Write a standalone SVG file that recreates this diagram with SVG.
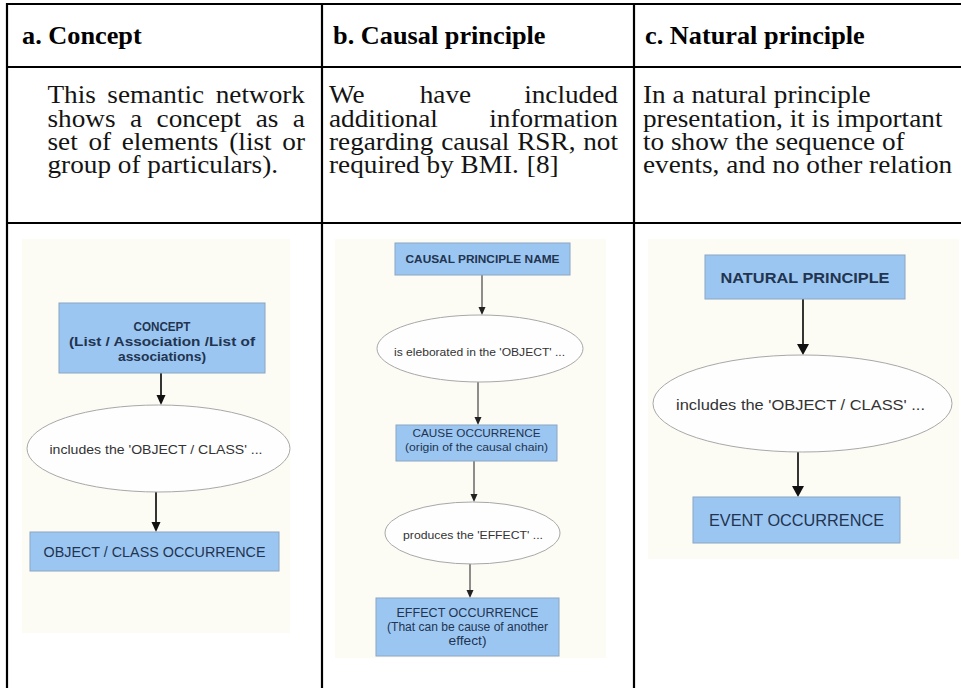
<svg xmlns="http://www.w3.org/2000/svg" width="961" height="688" viewBox="0 0 961 688">
<style>
  .grid{stroke:#000;stroke-width:2.2;fill:none}
  .hd{font-family:"Liberation Serif","Times New Roman",serif;font-weight:bold;font-size:24.8px;fill:#000}
  .bd{font-family:"Liberation Serif","Times New Roman",serif;font-size:25.7px;fill:#141414}
  .pic{fill:#fcfbf4}
  .box{fill:#9cc6f2;stroke:#8aa6c4;stroke-width:1}
  .oval{fill:#fefefe;stroke:#a8a8a8;stroke-width:1}
  .bt{font-family:"Liberation Sans",Arial,sans-serif;fill:#22344f;text-anchor:middle}
  .ot{font-family:"Liberation Sans",Arial,sans-serif;fill:#333;text-anchor:middle}
  .b{font-weight:bold}
  .edge{stroke:#111;stroke-width:1.7;fill:none}
  .edge.s{stroke:#333;stroke-width:1.1}
</style>
<defs>
  <marker id="ah" markerUnits="userSpaceOnUse" markerWidth="10" markerHeight="10" refX="7" refY="5" orient="auto">
    <path d="M0,0.5 L10,5 L0,9.5 Z" fill="#111"/>
  </marker>
  <marker id="ahl" markerUnits="userSpaceOnUse" markerWidth="11" markerHeight="13" refX="8" refY="6.5" orient="auto">
    <path d="M0,0.5 L11,6.5 L0,12.5 Z" fill="#111"/>
  </marker>
  <marker id="ahs" markerUnits="userSpaceOnUse" markerWidth="8" markerHeight="8" refX="5" refY="4" orient="auto">
    <path d="M0,0.5 L8,4 L0,7.5 Z" fill="#222"/>
  </marker>
</defs>

<rect width="961" height="688" fill="#fff"/>

<!-- table rules -->
<g id="table">
  <path class="grid" d="M6,4 H961 M6,67 H961 M6,223 H961 M7,3 V688 M322,3 V688 M634,3 V688"/>
</g>

<!-- header and description text, set in a slightly widened serif -->
<g id="table-text" transform="scale(1.06 1)">
  <text class="hd" x="20.75" y="44">a. Concept</text>
  <text class="hd" x="314.2" y="44">b. Causal principle</text>
  <text class="hd" x="608.5" y="44">c. Natural principle</text>

  <text class="bd" y="103.5"><tspan x="44.8">This</tspan><tspan x="101.3">semantic</tspan><tspan x="203.5">network</tspan></text>
  <text class="bd" y="126.8"><tspan x="44.8">shows</tspan><tspan x="122.7">a</tspan><tspan x="147.7">concept</tspan><tspan x="241.3">as</tspan><tspan x="276.3">a</tspan></text>
  <text class="bd" y="150.1"><tspan x="44.8">set</tspan><tspan x="83.4">of</tspan><tspan x="114.8">elements</tspan><tspan x="216.3">(list</tspan><tspan x="266.3">or</tspan></text>
  <text class="bd" x="44.8" y="173.4">group of particulars).</text>

  <text class="bd" y="103.5"><tspan x="310.4">We</tspan><tspan x="396">have</tspan><tspan x="494.5">included</tspan></text>
  <text class="bd" y="126.8"><tspan x="310.4">additional</tspan><tspan x="461.6">information</tspan></text>
  <text class="bd" y="150.1"><tspan x="310.4">regarding</tspan><tspan x="416.3">causal</tspan><tspan x="487.9">RSR,</tspan><tspan x="550.2">not</tspan></text>
  <text class="bd" y="173.4"><tspan x="310.4">required by BMI.</tspan><tspan x="497">[8]</tspan></text>

  <text class="bd" x="606.6" y="103.5">In a natural principle</text>
  <text class="bd" x="606.6" y="126.8">presentation, it is important</text>
  <text class="bd" x="606.6" y="150.1">to show the sequence of</text>
  <text class="bd" x="606.6" y="173.4">events, and no other relation</text>
</g>

<!-- picture backgrounds -->
<rect class="pic" x="22" y="239" width="268" height="394"/>
<rect class="pic" x="335" y="239" width="271" height="419"/>
<rect class="pic" x="648" y="239" width="311" height="320"/>

<!-- connectors -->
<g id="connectors">
  <line class="edge" marker-end="url(#ah)" x1="161" y1="373" x2="161" y2="402"/>
  <line class="edge" marker-end="url(#ah)" x1="156" y1="492" x2="156" y2="529"/>

  <line class="edge s" marker-end="url(#ahs)" x1="482" y1="275" x2="482" y2="312"/>
  <line class="edge s" marker-end="url(#ahs)" x1="478" y1="382" x2="478" y2="422"/>
  <line class="edge s" marker-end="url(#ahs)" x1="474" y1="461" x2="474" y2="499"/>
  <line class="edge s" marker-end="url(#ahs)" x1="470" y1="564" x2="470" y2="595"/>

  <line class="edge" marker-end="url(#ahl)" x1="803" y1="299" x2="803" y2="352"/>
  <line class="edge" marker-end="url(#ahl)" x1="798" y1="452" x2="798" y2="494"/>
</g>

<!-- a. concept -->
<g id="concept">
  <rect class="box" x="59" y="303" width="206" height="70"/>
  <text class="bt b" x="162" y="331" font-size="12.5" textLength="57" lengthAdjust="spacingAndGlyphs">CONCEPT</text>
  <text class="bt b" x="162" y="346" font-size="12.5" textLength="186" lengthAdjust="spacingAndGlyphs">(List / Association /List of</text>
  <text class="bt b" x="162" y="361" font-size="12.5" textLength="88" lengthAdjust="spacingAndGlyphs">associations)</text>
</g>
<g id="concept-includes">
  <ellipse class="oval" cx="158.5" cy="448.5" rx="131.5" ry="43.5"/>
  <text class="ot" x="156" y="454" font-size="13.5" textLength="213" lengthAdjust="spacingAndGlyphs">includes the 'OBJECT / CLASS' ...</text>
</g>
<g id="object-class">
  <rect class="box" x="30" y="532" width="249" height="39"/>
  <text class="bt" x="154.5" y="557" font-size="15" textLength="222" lengthAdjust="spacingAndGlyphs">OBJECT / CLASS OCCURRENCE</text>
</g>

<!-- b. causal principle -->
<g id="causal-name">
  <rect class="box" x="395" y="243" width="175" height="32"/>
  <text class="bt b" x="482.5" y="263" font-size="10.5" textLength="154" lengthAdjust="spacingAndGlyphs">CAUSAL PRINCIPLE NAME</text>
</g>
<g id="elaborated">
  <ellipse class="oval" cx="480" cy="348.5" rx="103" ry="33.5"/>
  <text class="ot" x="479.5" y="356" font-size="10" textLength="171" lengthAdjust="spacingAndGlyphs">is eleborated in the 'OBJECT' ...</text>
</g>
<g id="cause">
  <rect class="box" x="396" y="425" width="161" height="36"/>
  <text class="bt" x="476.5" y="437" font-size="11.5" textLength="128" lengthAdjust="spacingAndGlyphs">CAUSE OCCURRENCE</text>
  <text class="bt" x="476.5" y="451" font-size="11.5" textLength="143" lengthAdjust="spacingAndGlyphs">(origin of the causal chain)</text>
</g>
<g id="produces">
  <ellipse class="oval" cx="472.5" cy="533" rx="87.5" ry="31"/>
  <text class="ot" x="473" y="539" font-size="11" textLength="140" lengthAdjust="spacingAndGlyphs">produces the 'EFFECT' ...</text>
</g>
<g id="effect">
  <rect class="box" x="376" y="598" width="183" height="58"/>
  <text class="bt" x="467.5" y="617" font-size="12" textLength="142" lengthAdjust="spacingAndGlyphs">EFFECT OCCURRENCE</text>
  <text class="bt" x="467.5" y="631" font-size="12" textLength="161" lengthAdjust="spacingAndGlyphs">(That can be cause of another</text>
  <text class="bt" x="467.5" y="645" font-size="12" textLength="38" lengthAdjust="spacingAndGlyphs">effect)</text>
</g>

<!-- c. natural principle -->
<g id="natural">
  <rect class="box" x="705" y="255" width="200" height="44"/>
  <text class="bt b" x="805" y="282.5" font-size="15" textLength="169" lengthAdjust="spacingAndGlyphs">NATURAL PRINCIPLE</text>
</g>
<g id="natural-includes">
  <ellipse class="oval" cx="802.5" cy="403.5" rx="149.5" ry="48.5"/>
  <text class="ot" x="800.5" y="410" font-size="15" textLength="249" lengthAdjust="spacingAndGlyphs">includes the 'OBJECT / CLASS' ...</text>
</g>
<g id="event">
  <rect class="box" x="693" y="497" width="207" height="46"/>
  <text class="bt" x="796.5" y="526" font-size="16" textLength="175" lengthAdjust="spacingAndGlyphs">EVENT OCCURRENCE</text>
</g>
</svg>
